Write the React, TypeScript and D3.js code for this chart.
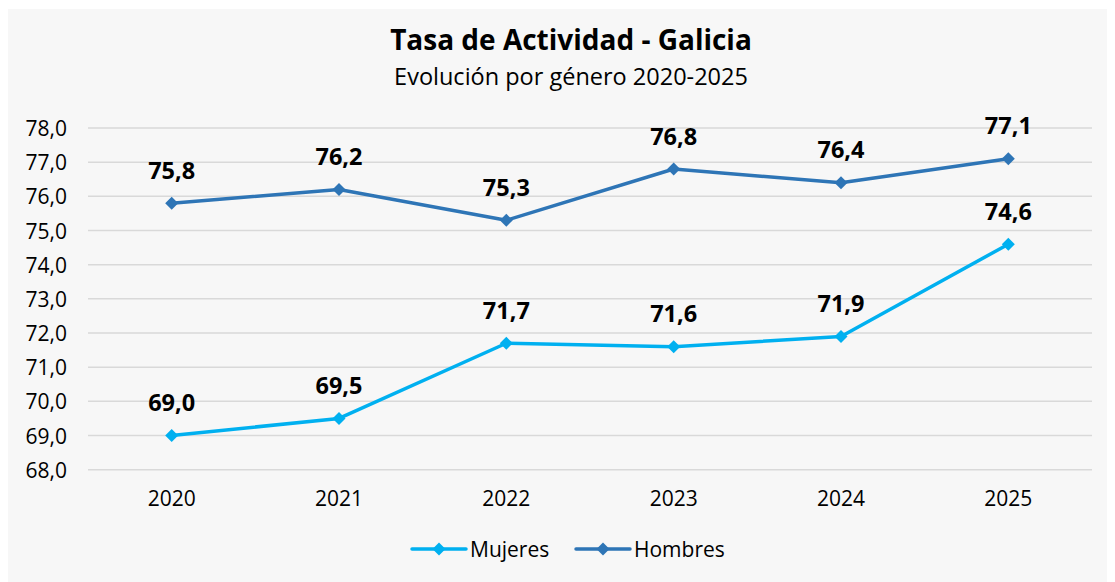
import React from "react";
import * as d3 from "d3";

const years = ["2020", "2021", "2022", "2023", "2024", "2025"];
const mujeres = [69.0, 69.5, 71.7, 71.6, 71.9, 74.6];
const hombres = [75.8, 76.2, 75.3, 76.8, 76.4, 77.1];
const yTicks = [68, 69, 70, 71, 72, 73, 74, 75, 76, 77, 78];
const seriesNames = ["Mujeres", "Hombres"];
const seriesColors = ["#00b0f0", "#2e75b6"];

const FONT = "'Open Sans', 'Noto Sans', sans-serif";

export default function App() {
  const x = d3.scaleBand<string>().domain(years).range([88, 1092]);
  const y = d3.scaleLinear().domain([68, 78]).range([469.7, 128]);
  const cx = (d: string) => (x(d) as number) + x.bandwidth() / 2;
  const fmt = (v: number) => v.toFixed(1).replace(".", ",");
  const line = d3
    .line<number>()
    .x((_, i) => cx(years[i]))
    .y((v) => y(v));
  const allSeries = [mujeres, hombres];
  const diamond = (px: number, py: number, r: number) =>
    `M${px},${py - r}L${px + r},${py}L${px},${py + r}L${px - r},${py}Z`;

  return (
    <svg
      width={1107}
      height={573}
      style={{ display: "block", marginTop: 1 }}
      fontFamily={FONT}
    >
      <g transform="translate(-8,-9)">
        <rect x={8} y={9} width={1107} height={573} fill="#f7f7f7" />
        <text x={571} y={50} textAnchor="middle" fontSize={28} fontWeight={700} fill="#000">
          Tasa de Actividad - Galicia
        </text>
        <text x={571} y={84.5} textAnchor="middle" fontSize={23.5} fill="#000">
          Evolución por género 2020-2025
        </text>
        {yTicks.map((t) => (
          <g key={t}>
            <line x1={88} x2={1092} y1={y(t)} y2={y(t)} stroke="#d9d9d9" strokeWidth={1.5} />
            <text x={67} y={y(t) + 8} textAnchor="end" fontSize={21} fill="#000">
              {fmt(t)}
            </text>
          </g>
        ))}
        {years.map((yr) => (
          <text key={yr} x={cx(yr)} y={506} textAnchor="middle" fontSize={21} fill="#000">
            {yr}
          </text>
        ))}
        {allSeries.map((s, si) => (
          <g key={si}>
            <path d={line(s) || ""} fill="none" stroke={seriesColors[si]} strokeWidth={3.5} strokeLinejoin="round" />
            {s.map((v, i) => (
              <path key={i} d={diamond(cx(years[i]), y(v), 6.5)} fill={seriesColors[si]} />
            ))}
            {s.map((v, i) => (
              <text
                key={"l" + i}
                x={cx(years[i])}
                y={y(v) - 24.5}
                textAnchor="middle"
                fontSize={23.5}
                fontWeight={700}
                fill="#000"
              >
                {fmt(v)}
              </text>
            ))}
          </g>
        ))}
        {seriesNames.map((n, i) => {
          const lx = i === 0 ? 412 : 576;
          return (
            <g key={n}>
              <line x1={lx} x2={lx + 54} y1={549} y2={549} stroke={seriesColors[i]} strokeWidth={3.5} strokeLinecap="round" />
              <path d={diamond(lx + 27, 549, 6.5)} fill={seriesColors[i]} />
              <text x={lx + 58} y={557} fontSize={21} fill="#000">
                {n}
              </text>
            </g>
          );
        })}
      </g>
    </svg>
  );
}
